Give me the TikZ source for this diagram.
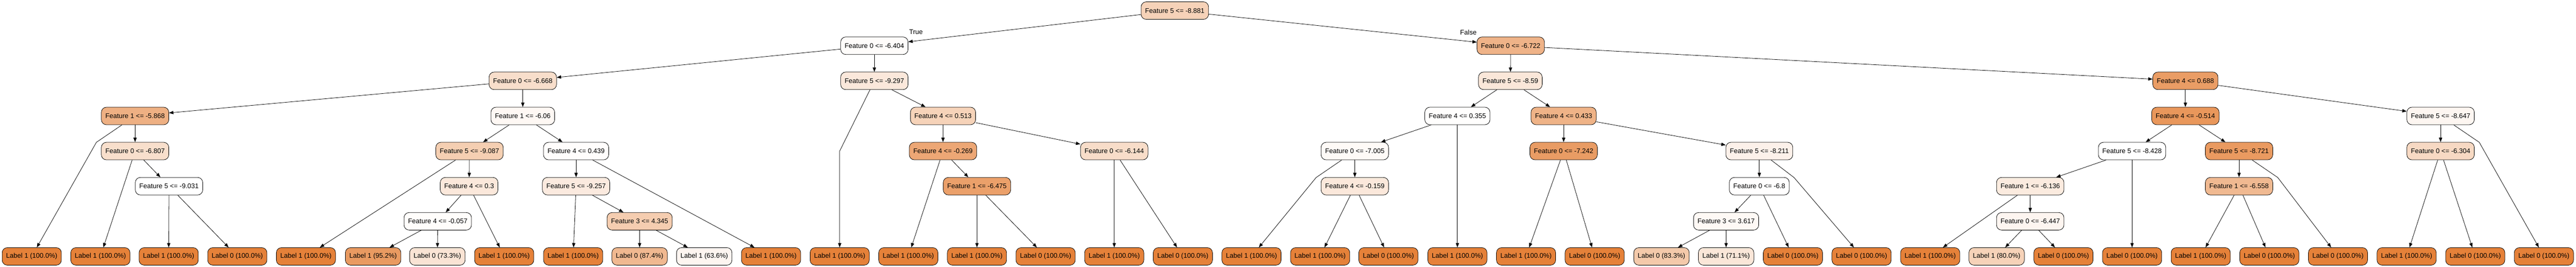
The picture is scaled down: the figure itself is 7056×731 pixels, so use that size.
\documentclass[tikz,border=0pt]{standalone}
\usepackage{fontspec}
\setmainfont{Liberation Sans}
\usetikzlibrary{arrows.meta}
\definecolor{leafor}{HTML}{E58139}
\definecolor{c95}{HTML}{E99A61}
\definecolor{c733}{HTML}{F9E3D4}
\definecolor{c874}{HTML}{F0B890}
\definecolor{c636}{HTML}{FDF5F0}
\definecolor{c833}{HTML}{F4C9AA}
\definecolor{c711}{HTML}{FAE6D8}
\definecolor{c80}{HTML}{F6D2B8}
\begin{document}
\begin{tikzpicture}[x=1pt,y=-1pt,
  tn/.style={draw=black, rounded corners=14pt, minimum height=48pt, inner xsep=11pt, inner ysep=0pt,
    line width=1.1pt, text=black, font=\fontsize{18.4pt}{22pt}\selectfont},
  lf/.style={tn, fill=leafor},
  e/.style={draw=black, line width=1.1pt, -{Triangle[length=12pt,width=9pt]}},
  elbl/.style={font=\fontsize{18.4pt}{22pt}\selectfont, inner sep=0pt}]
\useasboundingbox (0,0) rectangle (7056,731);
% level 0
\node[tn, fill={rgb,255:red,246;green,210;blue,184}] (n0) at (3218,29) {Feature 5 <= -8.881};
% level 1
\node[tn, fill={rgb,255:red,254;green,252;blue,250}] (n1) at (2395,125.2) {Feature 0 <= -6.404};
\node[tn, fill={rgb,255:red,239;green,179;blue,136}] (n2) at (4138,125.2) {Feature 0 <= -6.722};
% level 2
\node[tn, fill={rgb,255:red,248;green,222;blue,203}] (n3) at (1432,221.3) {Feature 0 <= -6.668};
\node[tn, fill={rgb,255:red,251;green,232;blue,219}] (n4) at (2395,221.3) {Feature 5 <= -9.297};
\node[tn, fill={rgb,255:red,250;green,231;blue,217}] (n5) at (4137,221.3) {Feature 5 <= -8.59};
\node[tn, fill={rgb,255:red,234;green,157;blue,101}] (n6) at (5986,221.3) {Feature 4 <= 0.688};
% level 3
\node[tn, fill={rgb,255:red,238;green,176;blue,131}] (n7) at (370,317.5) {Feature 1 <= -5.868};
\node[tn, fill={rgb,255:red,254;green,248;blue,244}] (n8) at (1432,317.5) {Feature 1 <= -6.06};
\node[tn, fill={rgb,255:red,246;green,211;blue,185}] (n9) at (2583,317.5) {Feature 4 <= 0.513};
\node[tn, fill={rgb,255:red,255;green,254;blue,253}] (n10) at (3992,317.5) {Feature 4 <= 0.355};
\node[tn, fill={rgb,255:red,239;green,179;blue,135}] (n11) at (4283,317.5) {Feature 4 <= 0.433};
\node[tn, fill={rgb,255:red,233;green,151;blue,91}] (n12) at (5986,317.5) {Feature 4 <= -0.514};
\node[tn, fill={rgb,255:red,253;green,246;blue,241}] (n13) at (6685,317.5) {Feature 5 <= -8.647};
% level 4
\node[tn, fill={rgb,255:red,248;green,223;blue,204}] (n14) at (370,413.6) {Feature 0 <= -6.807};
\node[tn, fill={rgb,255:red,245;green,207;blue,178}] (n15) at (1286,413.6) {Feature 5 <= -9.087};
\node[tn, fill={rgb,255:red,255;green,253;blue,252}] (n16) at (1578,413.6) {Feature 4 <= 0.439};
\node[tn, fill={rgb,255:red,237;green,167;blue,117}] (n17) at (2583,413.6) {Feature 4 <= -0.269};
\node[tn, fill={rgb,255:red,248;green,221;blue,201}] (n18) at (3052,413.6) {Feature 0 <= -6.144};
\node[tn, fill={rgb,255:red,254;green,250;blue,247}] (n19) at (3711,413.6) {Feature 0 <= -7.005};
\node[tn, fill={rgb,255:red,233;green,156;blue,100}] (n20) at (4283,413.6) {Feature 0 <= -7.242};
\node[tn, fill={rgb,255:red,252;green,241;blue,234}] (n21) at (4819,413.6) {Feature 5 <= -8.211};
\node[tn, fill=white] (n22) at (5840,413.6) {Feature 5 <= -8.428};
\node[tn, fill={rgb,255:red,234;green,154;blue,96}] (n23) at (6133,413.6) {Feature 5 <= -8.721};
\node[tn, fill={rgb,255:red,247;green,217;blue,195}] (n24) at (6685,413.6) {Feature 0 <= -6.304};
% level 5
\node[tn, fill=white] (n25) at (463,509.8) {Feature 5 <= -9.031};
\node[tn, fill={rgb,255:red,251;green,232;blue,219}] (n26) at (1285,509.8) {Feature 4 <= 0.3};
\node[tn, fill={rgb,255:red,251;green,234;blue,223}] (n27) at (1578,509.8) {Feature 5 <= -9.257};
\node[tn, fill={rgb,255:red,235;green,160;blue,106}] (n28) at (2676,509.8) {Feature 1 <= -6.475};
\node[tn, fill={rgb,255:red,251;green,232;blue,219}] (n29) at (3711,509.8) {Feature 4 <= -0.159};
\node[tn, fill={rgb,255:red,255;green,254;blue,254}] (n30) at (4819,509.8) {Feature 0 <= -6.8};
\node[tn, fill={rgb,255:red,251;green,235;blue,223}] (n31) at (5561,509.8) {Feature 1 <= -6.136};
\node[tn, fill={rgb,255:red,240;green,185;blue,145}] (n32) at (6133,509.8) {Feature 1 <= -6.558};
% level 6
\node[tn, fill={rgb,255:red,255;green,253;blue,251}] (n33) at (1199,605.9) {Feature 4 <= -0.057};
\node[tn, fill={rgb,255:red,245;green,205;blue,176}] (n34) at (1752,605.9) {Feature 3 <= 4.345};
\node[tn, fill={rgb,255:red,254;green,249;blue,245}] (n35) at (4728,605.9) {Feature 3 <= 3.617};
\node[tn, fill={rgb,255:red,253;green,245;blue,240}] (n36) at (5561,605.9) {Feature 0 <= -6.447};
% leaves
\node[lf] (l1) at (87,702) {Label 1 (100.0\%)};
\node[lf] (l2) at (275,702) {Label 1 (100.0\%)};
\node[lf] (l3) at (462,702) {Label 1 (100.0\%)};
\node[lf] (l4) at (650,702) {Label 0 (100.0\%)};
\node[lf] (l5) at (838,702) {Label 1 (100.0\%)};
\node[tn, fill=c95] (l6) at (1022,702) {Label 1 (95.2\%)};
\node[tn, fill=c733] (l7) at (1198,702) {Label 0 (73.3\%)};
\node[lf] (l8) at (1381,702) {Label 1 (100.0\%)};
\node[lf] (l9) at (1570,702) {Label 1 (100.0\%)};
\node[tn, fill=c874] (l10) at (1752,702) {Label 0 (87.4\%)};
\node[tn, fill=c636] (l11) at (1929,702) {Label 1 (63.6\%)};
\node[lf] (l12) at (2112,702) {Label 1 (100.0\%)};
\node[lf] (l13) at (2300,702) {Label 1 (100.0\%)};
\node[lf] (l14) at (2488,702) {Label 1 (100.0\%)};
\node[lf] (l15) at (2676,702) {Label 1 (100.0\%)};
\node[lf] (l16) at (2864,702) {Label 0 (100.0\%)};
\node[lf] (l17) at (3052,702) {Label 1 (100.0\%)};
\node[lf] (l18) at (3240,702) {Label 0 (100.0\%)};
\node[lf] (l19) at (3428,702) {Label 1 (100.0\%)};
\node[lf] (l20) at (3616,702) {Label 1 (100.0\%)};
\node[lf] (l21) at (3803,702) {Label 0 (100.0\%)};
\node[lf] (l22) at (3992,702) {Label 1 (100.0\%)};
\node[lf] (l23) at (4180,702) {Label 1 (100.0\%)};
\node[lf] (l24) at (4368,702) {Label 0 (100.0\%)};
\node[tn, fill=c833] (l25) at (4551,702) {Label 0 (83.3\%)};
\node[tn, fill=c711] (l26) at (4728,702) {Label 1 (71.1\%)};
\node[lf] (l27) at (4911,702) {Label 0 (100.0\%)};
\node[lf] (l28) at (5099,702) {Label 0 (100.0\%)};
\node[lf] (l29) at (5287,702) {Label 1 (100.0\%)};
\node[tn, fill=c80] (l30) at (5469,702) {Label 1 (80.0\%)};
\node[lf] (l31) at (5652,702) {Label 0 (100.0\%)};
\node[lf] (l32) at (5840,702) {Label 0 (100.0\%)};
\node[lf] (l33) at (6028,702) {Label 1 (100.0\%)};
\node[lf] (l34) at (6216,702) {Label 0 (100.0\%)};
\node[lf] (l35) at (6404,702) {Label 0 (100.0\%)};
\node[lf] (l36) at (6592,702) {Label 1 (100.0\%)};
\node[lf] (l37) at (6780,702) {Label 0 (100.0\%)};
\node[lf] (l38) at (6968,702) {Label 0 (100.0\%)};
% bend points
\coordinate (w1) at (264,389.6);
\coordinate (w2) at (2300,413.6);
\coordinate (w3) at (3605,486);
\coordinate (w4) at (4914,486);
\coordinate (w5) at (6239,486);
\coordinate (w6) at (6791,389.6);
% edge labels
\node[elbl] (tTrue) at (2509,88) {True};
\node[elbl] (tFalse) at (4022,89) {False};
% edges
\draw[e] (n0) -- (n1);
\draw[e] (n0) -- (n2);
\draw[e] (n1) -- (n3);
\draw[e] (n1) -- (n4);
\draw[e] (n3) -- (n7);
\draw[e] (n3) -- (n8);
\draw[e] (n7) -- (w1) -- (l1);
\draw[e] (n7) -- (n14);
\draw[e] (n14) -- (l2);
\draw[e] (n14) -- (n25);
\draw[e] (n25) -- (l3);
\draw[e] (n25) -- (l4);
\draw[e] (n8) -- (n15);
\draw[e] (n8) -- (n16);
\draw[e] (n15) -- (l5);
\draw[e] (n15) -- (n26);
\draw[e] (n26) -- (n33);
\draw[e] (n26) -- (l8);
\draw[e] (n33) -- (l6);
\draw[e] (n33) -- (l7);
\draw[e] (n16) -- (n27);
\draw[e] (n16) -- (l12);
\draw[e] (n27) -- (l9);
\draw[e] (n27) -- (n34);
\draw[e] (n34) -- (l10);
\draw[e] (n34) -- (l11);
\draw[e] (n4) -- (w2) -- (l13);
\draw[e] (n4) -- (n9);
\draw[e] (n9) -- (n17);
\draw[e] (n9) -- (n18);
\draw[e] (n17) -- (l14);
\draw[e] (n17) -- (n28);
\draw[e] (n28) -- (l15);
\draw[e] (n28) -- (l16);
\draw[e] (n18) -- (l17);
\draw[e] (n18) -- (l18);
\draw[e] (n2) -- (n5);
\draw[e] (n2) -- (n6);
\draw[e] (n5) -- (n10);
\draw[e] (n5) -- (n11);
\draw[e] (n10) -- (n19);
\draw[e] (n10) -- (l22);
\draw[e] (n19) -- (w3) -- (l19);
\draw[e] (n19) -- (n29);
\draw[e] (n29) -- (l20);
\draw[e] (n29) -- (l21);
\draw[e] (n11) -- (n20);
\draw[e] (n11) -- (n21);
\draw[e] (n20) -- (l23);
\draw[e] (n20) -- (l24);
\draw[e] (n21) -- (n30);
\draw[e] (n21) -- (w4) -- (l28);
\draw[e] (n30) -- (n35);
\draw[e] (n30) -- (l27);
\draw[e] (n35) -- (l25);
\draw[e] (n35) -- (l26);
\draw[e] (n6) -- (n12);
\draw[e] (n6) -- (n13);
\draw[e] (n12) -- (n22);
\draw[e] (n12) -- (n23);
\draw[e] (n22) -- (n31);
\draw[e] (n22) -- (l32);
\draw[e] (n31) -- (l29);
\draw[e] (n31) -- (n36);
\draw[e] (n36) -- (l30);
\draw[e] (n36) -- (l31);
\draw[e] (n23) -- (n32);
\draw[e] (n23) -- (w5) -- (l35);
\draw[e] (n32) -- (l33);
\draw[e] (n32) -- (l34);
\draw[e] (n13) -- (n24);
\draw[e] (n13) -- (w6) -- (l38);
\draw[e] (n24) -- (l36);
\draw[e] (n24) -- (l37);
\end{tikzpicture}
\end{document}
